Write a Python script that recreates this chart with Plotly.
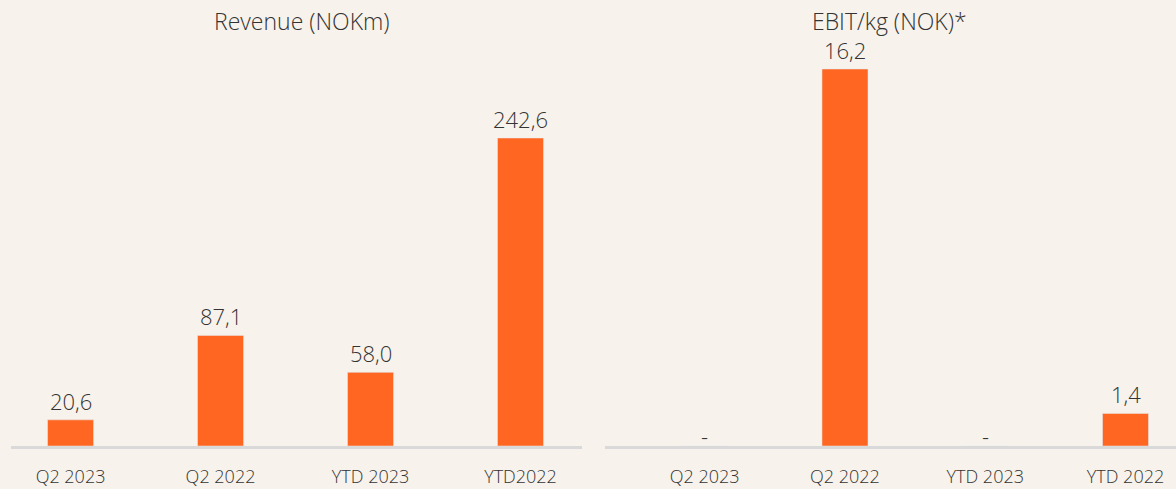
import plotly.graph_objects as go

# Data
rev_categories = ["Q2 2023", "Q2 2022", "YTD 2023", "YTD2022"]
rev_values = [20.6, 87.1, 58.0, 242.6]
rev_labels = ["20,6", "87,1", "58,0", "242,6"]

ebit_categories = ["Q2 2023", "Q2 2022", "YTD 2023", "YTD 2022"]
ebit_values = [0, 16.2, 0, 1.4]
ebit_labels = ["-", "16,2", "-", "1,4"]

BG = "#F7F2EB"
ORANGE = "#FF6622"
TXT = "#333333"
LINE = "#D9D9D9"
FONT = "Open Sans"

W, H = 1176, 489
zero_px = 446
top_px = 40

fig = go.Figure()
fig.add_trace(go.Bar(
    x=rev_categories, y=rev_values,
    marker_color=ORANGE, width=0.307, xaxis="x", yaxis="y", hoverinfo="x+y",
))
fig.add_trace(go.Bar(
    x=ebit_categories, y=ebit_values,
    marker_color=ORANGE, width=0.328, xaxis="x2", yaxis="y2", hoverinfo="x+y",
))

annotations = []
for cats, vals, labs, xr, yr in [
    (rev_categories, rev_values, rev_labels, "x", "y"),
    (ebit_categories, ebit_values, ebit_labels, "x2", "y2"),
]:
    for c, v, t in zip(cats, vals, labs):
        annotations.append(dict(
            x=c, y=v, xref=xr, yref=yr, text=t, showarrow=False,
            xanchor="center", yanchor="bottom", borderpad=0,
            yshift=-6 if t == "-" else 3,
            font=dict(family=FONT, size=22, color=TXT, weight=300),
        ))

ydom = [(H - zero_px) / H, (H - top_px) / H]
rev_scale = (zero_px - 138) / 242.6
ebit_scale = (zero_px - 69) / 16.2

common_x = dict(
    type="category", showgrid=False, zeroline=False, showline=True,
    linecolor=LINE, linewidth=3, ticks="outside", ticklen=12, tickcolor=BG,
    tickfont=dict(family=FONT, size=18, color=TXT, weight=300), fixedrange=True,
)
common_y = dict(showgrid=False, zeroline=False, showline=False,
                showticklabels=False, domain=ydom, fixedrange=True)

annotations += [
    dict(text="Revenue (NOKm)", x=302 / W, y=(H - 21) / H, xref="paper", yref="paper",
         showarrow=False, xanchor="center", yanchor="middle", borderpad=0,
         font=dict(family=FONT, size=23, color=TXT, weight=300)),
    dict(text="EBIT/kg (NOK)*", x=889 / W, y=(H - 21) / H, xref="paper", yref="paper",
         showarrow=False, xanchor="center", yanchor="middle", borderpad=0,
         font=dict(family=FONT, size=23, color=TXT, weight=300)),
]

fig.update_layout(
    width=W, height=H,
    margin=dict(l=0, r=0, t=0, b=0),
    paper_bgcolor=BG, plot_bgcolor=BG,
    showlegend=False,
    font=dict(family=FONT, color=TXT),
    xaxis=dict(common_x, domain=[11 / W, 582 / W], anchor="y",
               range=[-0.397, 3.41]),
    yaxis=dict(common_y, anchor="x", range=[0, (zero_px - top_px) / rev_scale]),
    xaxis2=dict(common_x, domain=[605 / W, 1.0], anchor="y2",
                range=[-0.711, 3.360]),
    yaxis2=dict(common_y, anchor="x2", range=[0, (zero_px - top_px) / ebit_scale]),
    annotations=annotations,
)

fig.write_html(
    "out.html",
    config={"displayModeBar": False},
    post_script="document.body.style.margin='0';document.body.style.overflow='hidden';",
)
